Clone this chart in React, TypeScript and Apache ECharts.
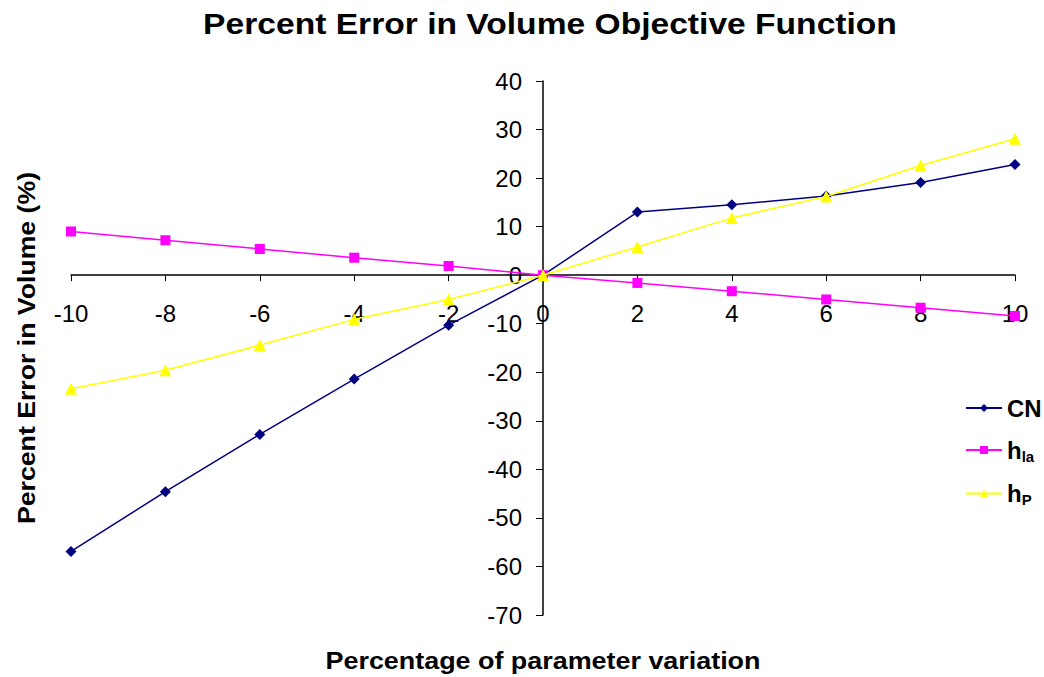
import React, { useEffect, useRef } from "react";
import * as echarts from "echarts";

const xValues = [-10, -8, -6, -4, -2, 0, 2, 4, 6, 8, 10];
const cnValues = [-56.9, -44.6, -32.8, -21.4, -10.3, 0, 13.0, 14.5, 16.3, 19.1, 22.8];
const hlaValues = [9.0, 7.2, 5.4, 3.6, 1.9, 0, -1.6, -3.3, -5.0, -6.7, -8.4];
const hpValues = [-23.4, -19.6, -14.4, -9.1, -5.0, 0, 5.8, 11.8, 16.2, 22.6, 28.1];

const titleText = "Percent Error in Volume Objective Function";
const xAxisTitle = "Percentage of parameter variation";
const yAxisTitle = "Percent Error in Volume (%)";

const FONT = "Liberation Sans, Arial, sans-serif";

const pairs = (ys: number[]) => xValues.map((x, i) => [x, ys[i]]);

export default function App() {
  const ref = useRef<HTMLDivElement>(null);
  useEffect(() => {
    if (!ref.current) return;
    const chart = echarts.init(ref.current, undefined, { renderer: "svg" });
    chart.setOption({
      animation: false,
      backgroundColor: "#ffffff",
      textStyle: { fontFamily: FONT, color: "#000" },
      grid: { left: 71, right: 29, top: 81, bottom: 62, containLabel: false },
      xAxis: {
        type: "value",
        min: -10,
        max: 10,
        interval: 2,
        axisLine: { onZero: true, lineStyle: { color: "#000", width: 1.5 } },
        axisTick: { show: true, inside: false, length: 6, lineStyle: { color: "#000" } },
        axisLabel: { color: "#000", fontSize: 24, fontFamily: FONT, margin: -314 },
        splitLine: { show: false },
      },
      yAxis: {
        type: "value",
        min: -70,
        max: 40,
        interval: 10,
        axisLine: { show: true, onZero: true, lineStyle: { color: "#000", width: 1.5 } },
        axisTick: { show: true, inside: false, length: 7, lineStyle: { color: "#000" } },
        axisLabel: { color: "#000", fontSize: 24, fontFamily: FONT, margin: -451 },
        splitLine: { show: false },
      },
      legend: {
        orient: "vertical",
        left: 960,
        top: 391,
        itemWidth: 36,
        itemHeight: 10,
        itemGap: 18,
        data: ["CN", "hla", "hP"],
        formatter: (name: string) => {
          if (name === "CN") return "{b|CN}";
          if (name === "hla") return "{b|h}{s|la}";
          return "{b|h}{s|P}";
        },
        textStyle: {
          fontFamily: FONT,
          rich: {
            b: { fontSize: 24, fontWeight: "bold", color: "#000", fontFamily: FONT, height: 26 },
            s: {
              fontSize: 15,
              fontWeight: "bold",
              color: "#000",
              fontFamily: FONT,
              verticalAlign: "bottom",
              padding: [12, 0, 0, 0],
            },
          },
        },
      },
      graphic: [
        {
          type: "text",
          x: 550,
          y: 24,
          scaleX: 1.12,
          style: {
            text: titleText,
            font: `bold 30px ${FONT}`,
            fill: "#000",
            align: "center",
            verticalAlign: "middle",
          },
        },
        {
          type: "text",
          x: 543,
          y: 661,
          scaleX: 1.17,
          style: {
            text: xAxisTitle,
            font: `bold 23px ${FONT}`,
            fill: "#000",
            align: "center",
            verticalAlign: "middle",
          },
        },
        {
          type: "text",
          x: 27,
          y: 348,
          rotation: Math.PI / 2,
          scaleX: 1.16,
          style: {
            text: yAxisTitle,
            font: `bold 23px ${FONT}`,
            fill: "#000",
            align: "center",
            verticalAlign: "middle",
          },
        },
      ],
      series: [
        {
          name: "CN",
          type: "line",
          data: pairs(cnValues),
          color: "#000080",
          symbol: "diamond",
          symbolSize: 11,
          lineStyle: { width: 1.5, color: "#000080" },
          itemStyle: { color: "#000080" },
          z: 3,
        },
        {
          name: "hla",
          type: "line",
          data: pairs(hlaValues),
          color: "#FF00FF",
          symbol: "rect",
          symbolSize: 10,
          lineStyle: { width: 1.5, color: "#FF00FF" },
          itemStyle: { color: "#FF00FF" },
          z: 4,
        },
        {
          name: "hP",
          type: "line",
          data: pairs(hpValues),
          color: "#FFFF00",
          symbol: "triangle",
          symbolSize: 12,
          lineStyle: { width: 1.5, color: "#FFFF00" },
          itemStyle: { color: "#FFFF00" },
          z: 5,
        },
      ],
    });
    return () => chart.dispose();
  }, []);
  return <div ref={ref} style={{ width: 1044, height: 677, position: "absolute", left: 0, top: 0 }} />;
}
